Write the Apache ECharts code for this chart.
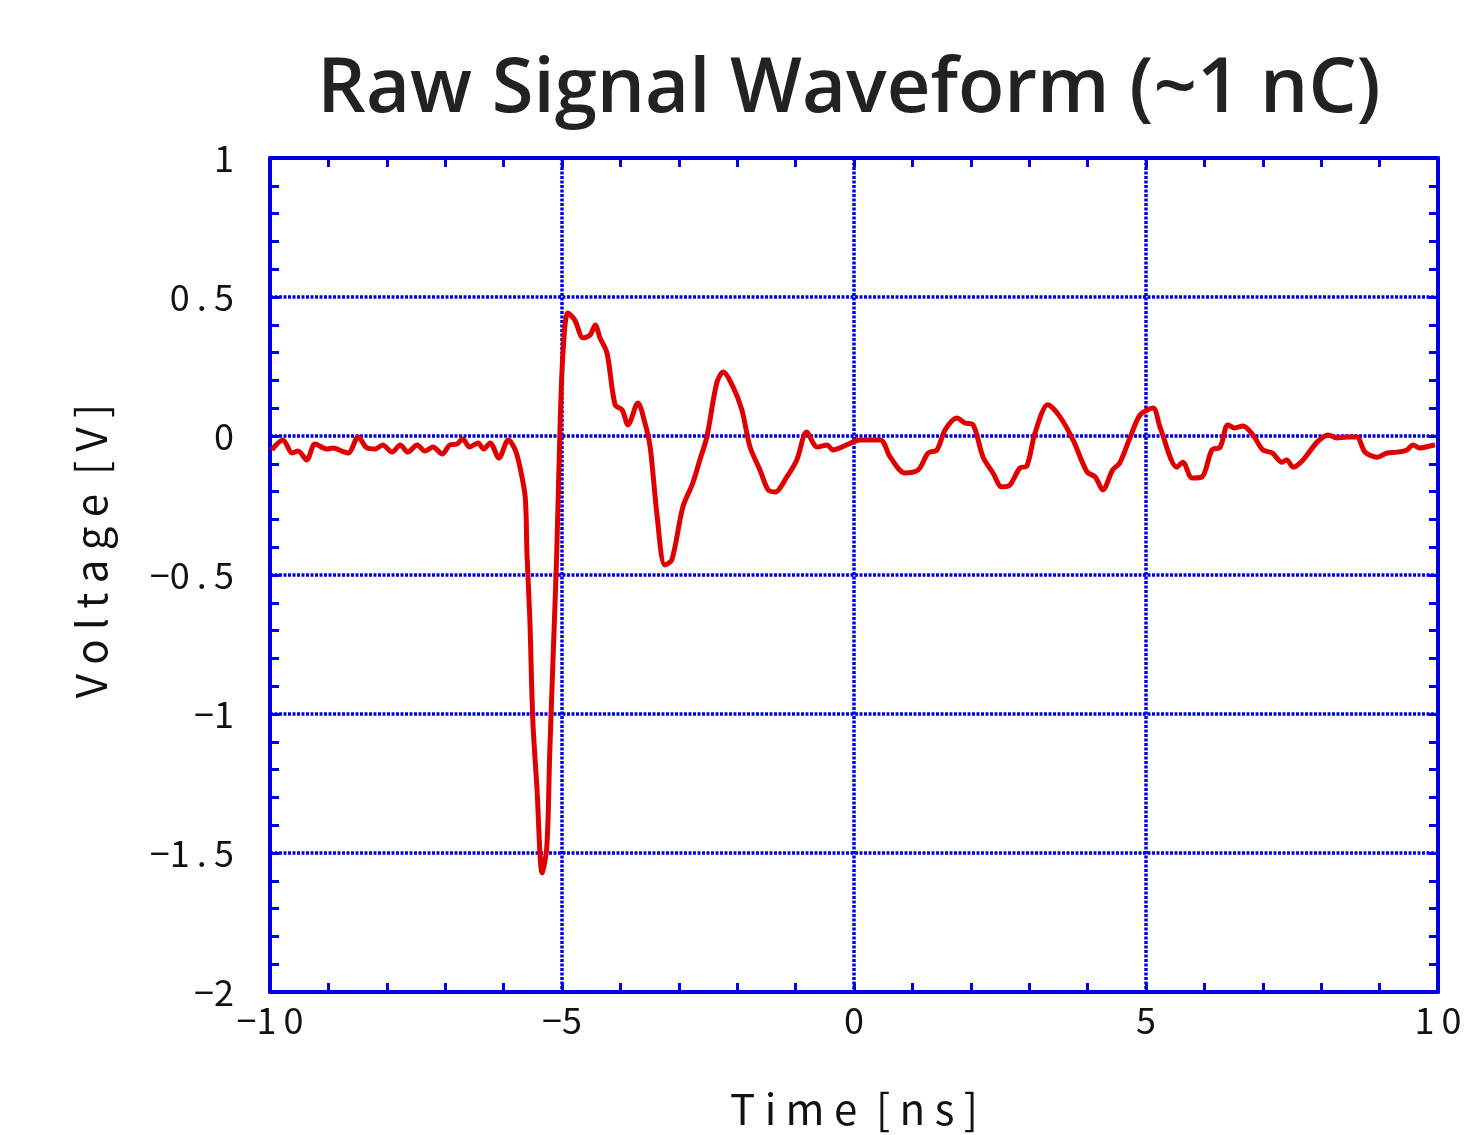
<!DOCTYPE html>
<html>
<head>
<meta charset="utf-8">
<script src="https://cdn.jsdelivr.net/npm/echarts@6/dist/echarts.min.js"></script>
<style>
  html, body { margin: 0; padding: 0; background: #fff; }
  #chart { width: 1466px; height: 1135px; }
</style>
</head>
<body>
<div id="chart"></div>
<script>
// waveform (time in ns, voltage in V)
var timeNs = [-9.97, -9.78, -9.62, -9.52, -9.37, -9.23, -9.02, -8.92, -8.77, -8.66,
    -8.49, -8.34, -8.20, -8.07, -7.91, -7.77, -7.64, -7.48, -7.35, -7.21,
    -7.05, -6.92, -6.80, -6.70, -6.58, -6.44, -6.34, -6.23, -6.08, -5.92,
    -5.80, -5.72, -5.63, -5.60, -5.55, -5.50, -5.43, -5.34, -5.26, -5.21,
    -5.15, -5.09, -5.03, -4.98, -4.90, -4.78, -4.64, -4.52, -4.43, -4.35,
    -4.23, -4.09, -3.97, -3.87, -3.70, -3.58, -3.49, -3.37, -3.24, -3.12,
    -2.93, -2.76, -2.64, -2.52, -2.35, -2.24, -2.07, -1.92, -1.78, -1.61,
    -1.47, -1.35, -1.15, -0.98, -0.81, -0.63, -0.46, -0.36, -0.21, -0.02,
    0.10, 0.45, 0.62, 0.87, 1.10, 1.27, 1.42, 1.56, 1.76, 1.90,
    2.04, 2.21, 2.38, 2.53, 2.67, 2.84, 2.96, 3.10, 3.32, 3.53,
    3.75, 3.99, 4.13, 4.26, 4.43, 4.55, 4.73, 4.90, 5.12, 5.24,
    5.53, 5.63, 5.79, 5.96, 6.13, 6.27, 6.40, 6.52, 6.66, 6.83,
    7.00, 7.16, 7.33, 7.41, 7.52, 7.69, 7.93, 8.12, 8.27, 8.44,
    8.61, 8.75, 8.96, 9.13, 9.30, 9.47, 9.57, 9.69, 9.86, 9.95];
var voltage = [-0.050, -0.014, -0.061, -0.054, -0.086, -0.029, -0.047, -0.043, -0.054, -0.061,
    -0.004, -0.043, -0.047, -0.032, -0.058, -0.032, -0.058, -0.032, -0.054, -0.040,
    -0.065, -0.032, -0.029, -0.011, -0.040, -0.025, -0.047, -0.025, -0.079, -0.014,
    -0.050, -0.112, -0.219, -0.421, -0.662, -1.022, -1.263, -1.572, -1.478, -1.140,
    -0.781, -0.421, 0.058, 0.309, 0.442, 0.417, 0.353, 0.363, 0.399, 0.353,
    0.299, 0.112, 0.094, 0.040, 0.119, 0.047, -0.040, -0.291, -0.464, -0.446,
    -0.255, -0.169, -0.086, -0.004, 0.191, 0.230, 0.176, 0.094, -0.040, -0.122,
    -0.194, -0.201, -0.147, -0.086, 0.014, -0.040, -0.032, -0.050, -0.040, -0.022,
    -0.014, -0.014, -0.076, -0.133, -0.122, -0.061, -0.050, 0.022, 0.065, 0.047,
    0.040, -0.076, -0.133, -0.183, -0.176, -0.115, -0.108, 0.011, 0.112, 0.068,
    -0.014, -0.129, -0.147, -0.194, -0.122, -0.097, -0.004, 0.076, 0.101, 0.032,
    -0.112, -0.094, -0.151, -0.147, -0.050, -0.040, 0.040, 0.029, 0.036, 0.004,
    -0.050, -0.061, -0.094, -0.086, -0.112, -0.086, -0.022, 0.004, -0.007, -0.004,
    -0.004, -0.058, -0.076, -0.061, -0.058, -0.050, -0.032, -0.043, -0.036, -0.032];

var xRange = [-10, 10];
var yRange = [-2, 1];

var blue = '#0000e6';
var labelFont = '"Noto Sans CJK JP", "Noto Sans", sans-serif';

// scope-style spaced tick text: "0 . 5", "−1 0" (no gap after the minus)
function spaced(v) {
    var s = String(v);
    var neg = s.charAt(0) == '-';
    if (neg) s = s.substring(1);
    s = s.split('').join('\u2009');
    return neg ? '\u2212' + s : s;
}

var points = [];
for (var i = 0; i < timeNs.length; i++) {
    points.push([timeNs[i], voltage[i]]);
}

function xAxisCfg(pos, show) {
    return {
        type: 'value', position: pos, min: xRange[0], max: xRange[1], interval: 5,
        axisLine: { show: true, onZero: false, lineStyle: { color: blue, width: 4 } },
        axisTick: { show: true, inside: true, length: 9, lineStyle: { color: blue, width: 3 } },
        minorTick: { show: true, splitNumber: 5, length: 9, lineStyle: { color: blue, width: 3 } },
        axisLabel: {
            show: show, margin: 10, color: '#111', fontSize: 36, fontFamily: labelFont,
            formatter: spaced
        },
        splitLine: { show: show, lineStyle: { color: blue, width: 3.5, type: [3, 1.5] } }
    };
}

function yAxisCfg(pos, show) {
    return {
        type: 'value', position: pos, min: yRange[0], max: yRange[1], interval: 0.5,
        axisLine: { show: true, onZero: false, lineStyle: { color: blue, width: 4 } },
        axisTick: { show: true, inside: true, length: 9, lineStyle: { color: blue, width: 3 } },
        minorTick: { show: true, splitNumber: 5, length: 9, lineStyle: { color: blue, width: 3 } },
        axisLabel: {
            show: show, margin: 36, color: '#111', fontSize: 36, fontFamily: labelFont,
            formatter: spaced, padding: [0, 0, 12, 0]
        },
        splitLine: { show: show, lineStyle: { color: blue, width: 3.5, type: [3, 1.5] } }
    };
}

var chart = echarts.init(document.getElementById('chart'));

var xMain = xAxisCfg('bottom', true);
xMain.name = 'T i m e  [ n s ]';
xMain.nameLocation = 'middle';
xMain.nameGap = 96;
xMain.nameTextStyle = { color: '#111', fontSize: 42, fontFamily: labelFont };

var yMain = yAxisCfg('left', true);
yMain.name = 'V o l t a g e  [ V ]';
yMain.nameLocation = 'middle';
yMain.nameGap = 158;
yMain.nameTextStyle = { color: '#111', fontSize: 42, fontFamily: labelFont, padding: [0, 0, 0, 48] };

var option = {
    animation: false,
    backgroundColor: '#fff',
    title: {
        text: 'Raw Signal Waveform (~1 nC)',
        left: 844, top: 47, textAlign: 'center',
        textStyle: { color: '#222', fontSize: 76, fontWeight: 600, fontFamily: '"Open Sans", "Noto Sans", sans-serif' }
    },
    grid: { left: 270, right: 28, top: 158, bottom: 143, containLabel: false },
    xAxis: [xMain, xAxisCfg('top', false)],
    yAxis: [yMain, yAxisCfg('right', false)],
    series: [{
        type: 'line',
        data: points,
        showSymbol: false,
        smooth: 0.3,
        lineStyle: { color: '#e00000', width: 5 },
        z: 5
    }]
};
chart.setOption(option);
</script>
</body>
</html>
